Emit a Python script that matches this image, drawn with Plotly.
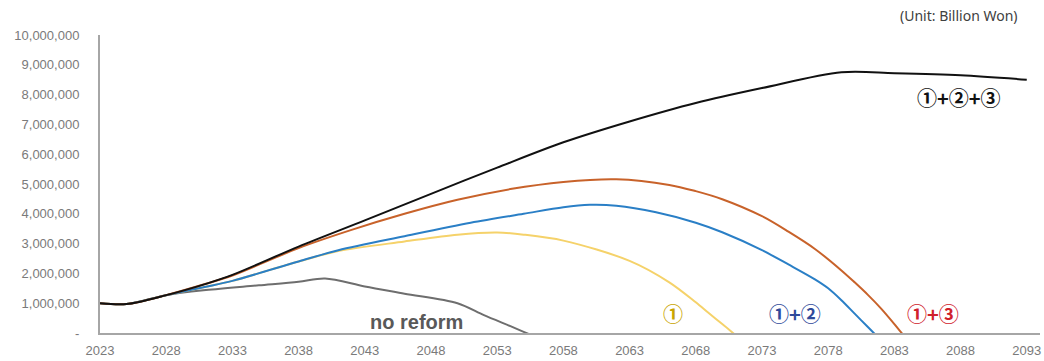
import plotly.graph_objects as go

# ---- data (Billion Won) ----
years_none = [2023, 2025, 2028, 2031, 2035, 2038, 2040, 2043, 2046, 2050, 2052, 2054, 2055, 2056]
vals_none = [1000000, 970000, 1270000, 1440000, 1600000, 1720000, 1830000, 1560000, 1320000, 1000000, 600000, 230000, 40000, -150000]

years_1 = [2023, 2025, 2028, 2031, 2033, 2038, 2041, 2046, 2050, 2053, 2055, 2058, 2063, 2066, 2068, 2069, 2070, 2071]
vals_1 = [1000000, 970000, 1270000, 1550000, 1750000, 2400000, 2750000, 3070000, 3300000, 3370000, 3300000, 3100000, 2420000, 1700000, 1030000, 660000, 300000, -70000]

years_12 = [2023, 2025, 2028, 2031, 2033, 2038, 2041, 2046, 2051, 2055, 2058, 2060, 2062, 2065, 2068, 2070, 2073, 2075, 2077, 2078, 2079, 2080, 2081, 2082]
vals_12 = [1000000, 970000, 1270000, 1550000, 1750000, 2400000, 2780000, 3250000, 3700000, 4000000, 4220000, 4300000, 4270000, 4050000, 3700000, 3380000, 2780000, 2300000, 1800000, 1500000, 1100000, 650000, 200000, -250000]

years_13 = [2023, 2025, 2028, 2031, 2033, 2038, 2042, 2046, 2050, 2054, 2058, 2062, 2066, 2068, 2070, 2073, 2075, 2077, 2079, 2080, 2081, 2082, 2083, 2084]
vals_13 = [1000000, 970000, 1270000, 1650000, 1930000, 2850000, 3460000, 4000000, 4470000, 4830000, 5070000, 5160000, 4970000, 4760000, 4490000, 3920000, 3400000, 2820000, 2100000, 1700000, 1280000, 820000, 300000, -250000]

years_123 = [2023, 2025, 2028, 2031, 2033, 2038, 2043, 2048, 2053, 2058, 2063, 2068, 2073, 2079, 2083, 2088, 2093]
vals_123 = [1000000, 970000, 1270000, 1650000, 1950000, 2900000, 3780000, 4670000, 5550000, 6400000, 7100000, 7720000, 8220000, 8750000, 8720000, 8650000, 8500000]

x_ticks = list(range(2023, 2094, 5))
y_ticks = [0, 1000000, 2000000, 3000000, 4000000, 5000000, 6000000, 7000000, 8000000, 9000000, 10000000]
y_ticktext = ["-"] + [f"{v:,}" for v in y_ticks[1:]]

series = [
    ("no reform", years_none, vals_none, "#6e6e6e"),
    ("①", years_1, vals_1, "#f5d26a"),
    ("①+②", years_12, vals_12, "#2a7fc6"),
    ("①+③", years_13, vals_13, "#c8622a"),
    ("①+②+③", years_123, vals_123, "#111111"),
]

fig = go.Figure()
for name, xs, ys, col in series:
    fig.add_trace(go.Scatter(x=xs, y=ys, mode="lines", name=name,
                             line=dict(color=col, width=2, shape="spline", smoothing=0.9)))

circ_font = "Noto Sans CJK KR"
labels = [
    ("no reform", 2046.9, 370000, "#595959", 20, "Liberation Sans"),
    ("①", 2066.3, 640000, "#c9a400", 20, circ_font),
    ("①+②", 2075.5, 640000, "#2f4a9a", 20, circ_font),
    ("①+③", 2085.9, 640000, "#d0202a", 20, circ_font),
    ("①+②+③", 2087.9, 7890000, "#111111", 20, circ_font),
]
for txt, x, y, col, sz, fam in labels:
    fig.add_annotation(x=x, y=y, text=f"<b>{txt}</b>", showarrow=False,
                       font=dict(color=col, size=sz, family=fam))

fig.add_annotation(xref="paper", yref="paper", x=0.979, y=1.0, xanchor="right", yanchor="bottom",
                   yshift=8, text="(Unit: Billion Won)", showarrow=False,
                   font=dict(size=14, color="#404040", family="Noto Sans"))

fig.update_layout(
    width=1044, height=361,
    margin=dict(l=100, r=4, t=35, b=28),
    plot_bgcolor="white", paper_bgcolor="white",
    showlegend=False,
    xaxis=dict(range=[2023, 2094], tickvals=x_ticks, showgrid=False, zeroline=False,
               showline=True, linecolor="#a6a6a6", linewidth=2,
               tickfont=dict(size=13, color="#7a7a7a", family="Liberation Sans"),
               ticks="", ticklabelstandoff=4),
    yaxis=dict(range=[0, 10000000], tickvals=y_ticks, ticktext=y_ticktext, showgrid=False,
               zeroline=False, showline=True, linecolor="#a6a6a6", linewidth=2,
               tickfont=dict(size=13, color="#7a7a7a", family="Liberation Sans"),
               ticks="", ticklabelstandoff=16),
)

fig.write_html("out.html", config={"displayModeBar": False},
               post_script="document.body.style.margin='0';document.body.style.overflow='hidden';")
